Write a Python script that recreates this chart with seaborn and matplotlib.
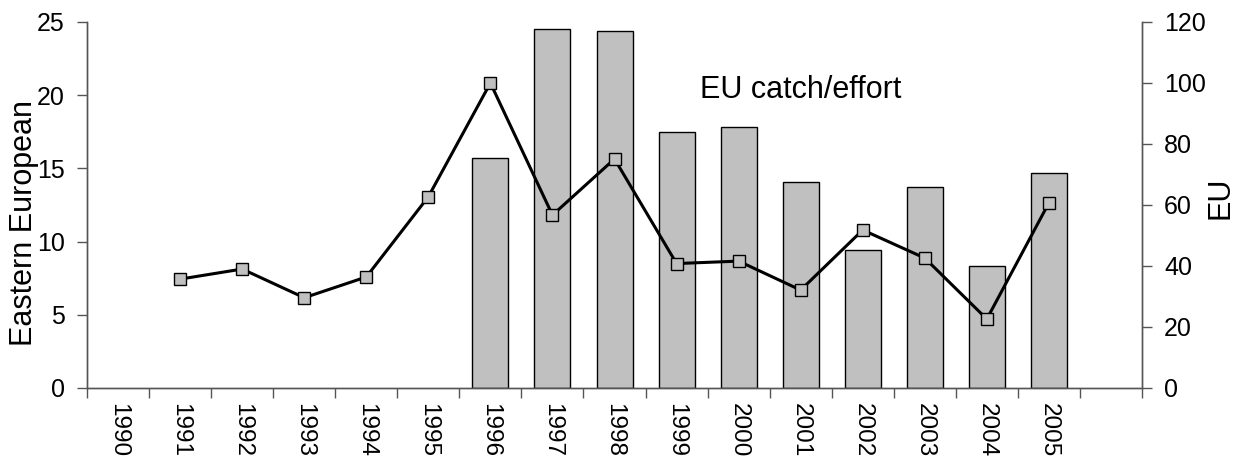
import matplotlib
matplotlib.use("Agg")
import matplotlib.pyplot as plt
import seaborn as sns
import pandas as pd
import numpy as np
from matplotlib.ticker import FixedLocator, NullFormatter

# Eastern European catch (bars, left axis) and EU catch/effort (line, right axis)
years = [str(y) for y in range(1990, 2006)]
bar_years = ["1996", "1997", "1998", "1999", "2000", "2001", "2002", "2003", "2004", "2005"]
eastern_european = [15.7, 24.5, 24.4, 17.5, 17.8, 14.1, 9.4, 13.7, 8.3, 14.7]
line_years = ["1991", "1992", "1993", "1994", "1995", "1996", "1997", "1998",
              "1999", "2000", "2001", "2002", "2003", "2004", "2005"]
eu_catch_effort = [35.7, 39.0, 29.6, 36.4, 62.7, 100.0, 56.7, 75.1,
                   40.8, 41.6, 32.1, 51.8, 42.6, 22.6, 60.7]
left_ticks = [0, 5, 10, 15, 20, 25]
right_ticks = [0, 20, 40, 60, 80, 100, 120]

sns.set_theme(style="white")
plt.rcParams["font.family"] = ["Liberation Sans", "DejaVu Sans"]
plt.rcParams["text.color"] = "black"
plt.rcParams["axes.labelcolor"] = "black"
plt.rcParams["xtick.labelcolor"] = "black"
plt.rcParams["ytick.labelcolor"] = "black"

fig = plt.figure(figsize=(12.49, 4.63), dpi=100)
ax = fig.add_axes([0.0697, 0.162, 0.8446, 0.7905])

bars_df = pd.DataFrame({"year": bar_years, "value": eastern_european})
sns.barplot(data=bars_df, x="year", y="value", order=years, ax=ax,
            color="#C0C0C0", saturation=1, width=0.58,
            edgecolor="black", linewidth=1.0, errorbar=None)

n_slots = len(years) + 1
ax.set_xlim(-0.5, n_slots - 0.5)
ax.set_ylim(0, 25)
ax.set_yticks(left_ticks)
ax.set_ylabel("Eastern European", fontsize=22)
ax.yaxis.set_label_coords(-0.046, 0.45)
ax.set_xlabel("")

# tick marks at category boundaries, labels at category centres
ax.xaxis.set_major_locator(FixedLocator(np.arange(-0.5, n_slots, 1.0)))
ax.xaxis.set_major_formatter(NullFormatter())
ax.xaxis.set_minor_locator(FixedLocator(np.arange(len(years))))
ax.set_xticklabels(years, minor=True, rotation=-90, fontsize=17.5)
ax.tick_params(axis="x", which="major", length=7, width=1, color="#555555",
               direction="out", bottom=True)
ax.tick_params(axis="x", which="minor", length=0, pad=11, bottom=True)
ax.tick_params(axis="y", length=7, width=1, color="#555555", direction="out",
               left=True, labelsize=18, pad=9)

ax2 = ax.twinx()
line_x = [years.index(y) for y in line_years]
line_df = pd.DataFrame({"pos": line_x, "value": eu_catch_effort})
sns.lineplot(data=line_df, x="pos", y="value", ax=ax2, color="black",
             linewidth=2.2, marker="s", markersize=9,
             markerfacecolor="#C0C0C0", markeredgecolor="black",
             markeredgewidth=1.0)
ax2.set_ylim(0, 120)
ax2.set_yticks(right_ticks)
ax2.set_ylabel("EU", fontsize=22)
ax2.yaxis.set_label_coords(1.06, 0.52)
ax2.set_xlabel("")
ax2.tick_params(axis="y", length=7, width=1, color="#555555", direction="out",
                right=True, labelsize=18, pad=9)
ax2.set_xlim(-0.5, n_slots - 0.5)

for a in (ax, ax2):
    a.spines["top"].set_visible(False)
    for s in ("left", "right", "bottom"):
        a.spines[s].set_color("#555555")
        a.spines[s].set_linewidth(1.0)
ax.grid(False)
ax2.grid(False)

ax.text(0.581, 0.815, "EU catch/effort", transform=ax.transAxes,
        fontsize=22, ha="left", va="center")

fig.savefig("out.png", dpi=100)
